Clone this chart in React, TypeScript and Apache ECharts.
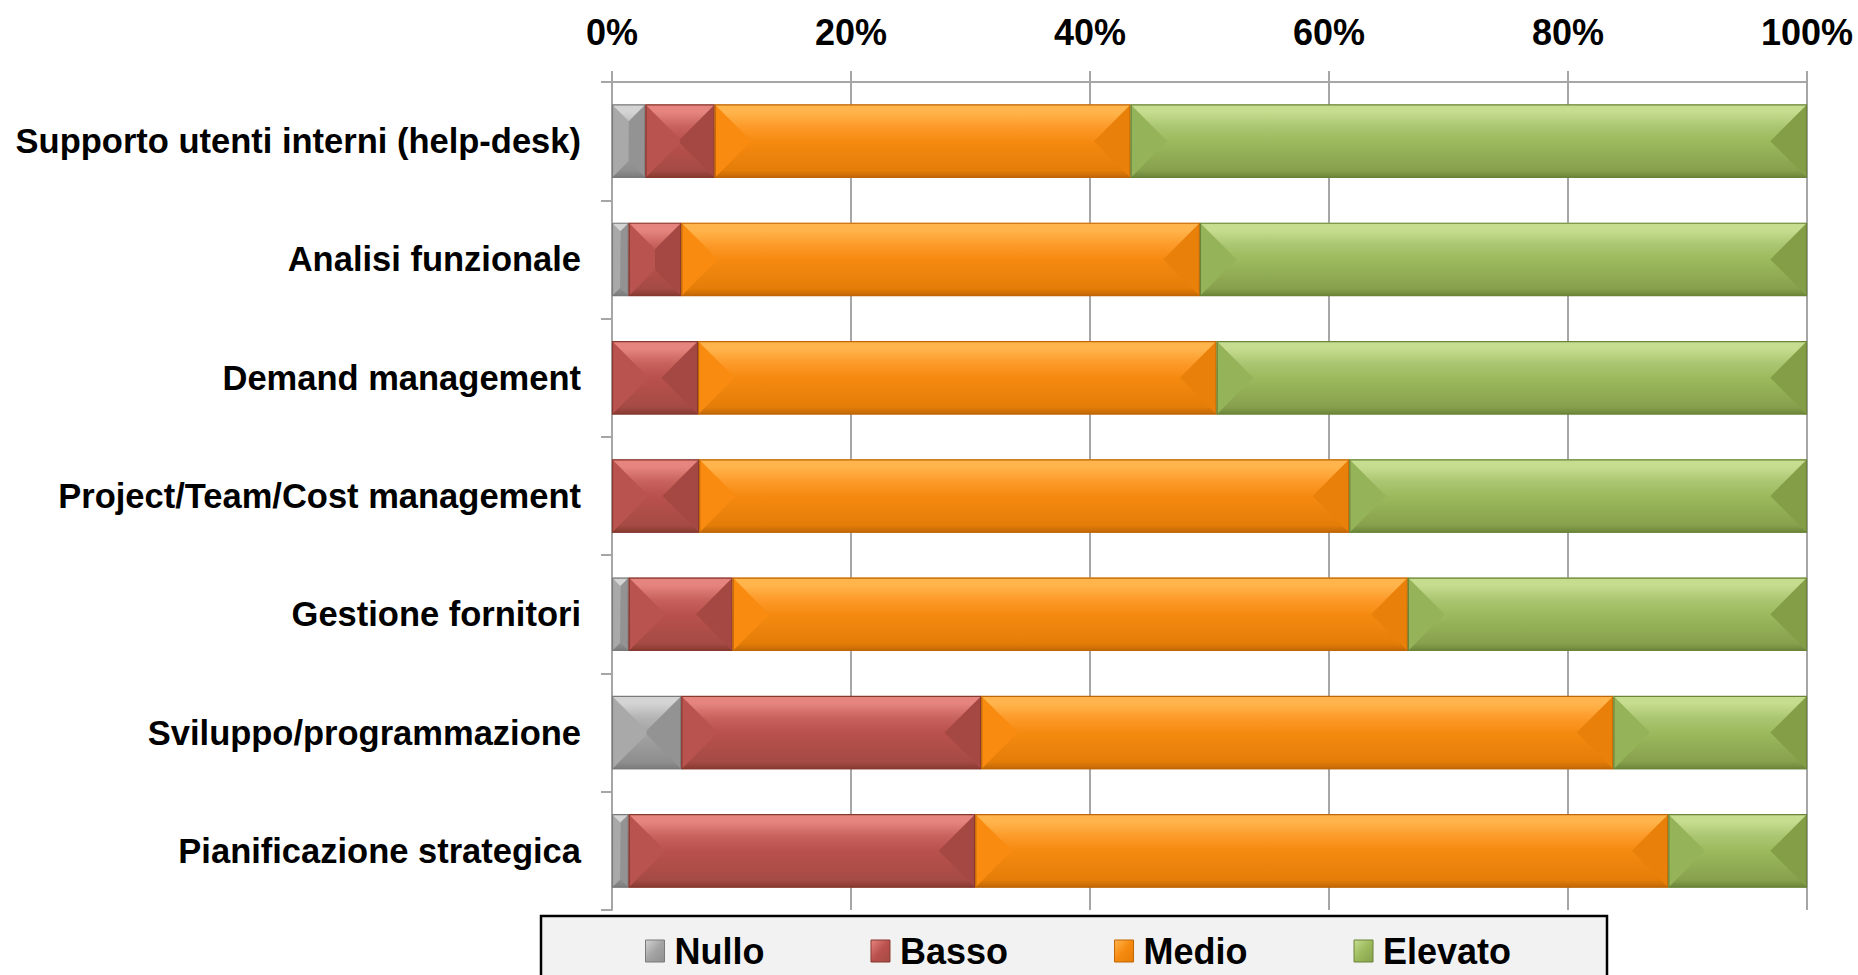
import React, { useEffect, useRef } from "react";
import * as echarts from "echarts";

const categories = [
  "Supporto utenti interni (help-desk)",
  "Analisi funzionale",
  "Demand management",
  "Project/Team/Cost management",
  "Gestione fornitori",
  "Sviluppo/programmazione",
  "Pianificazione strategica",
];
const seriesNames = ["Nullo", "Basso", "Medio", "Elevato"];
const nullo = [2.8, 1.4, 0, 0, 1.4, 5.8, 1.4];
const basso = [5.8, 4.4, 7.2, 7.3, 8.7, 25.1, 29.0];
const medio = [34.8, 43.4, 43.4, 54.4, 56.5, 52.9, 58.0];
const elevato = [56.6, 50.8, 49.4, 38.3, 33.4, 16.2, 11.6];
const tickValues = [0, 20, 40, 60, 80, 100];

const palette = [
  { top: "#d4d4d4", light: "#b4b4b4", mid: "#a4a4a4", bot: "#8e8e8e", left: "#a9a9a9", right: "#939393", border: "#7a7a7a" },
  { top: "#e6857f", light: "#c8625d", mid: "#b9514d", bot: "#a54a45", left: "#b9534f", right: "#a54843", border: "#86392f" },
  { top: "#ffb54c", light: "#fd9a2a", mid: "#f68a10", bot: "#e47d08", left: "#f98c10", right: "#e98009", border: "#c06606" },
  { top: "#c6dd8f", light: "#abc672", mid: "#9cba5d", bot: "#87a04d", left: "#95b359", right: "#849e47", border: "#6a8438" },
];

const FONT = "'Liberation Sans', Arial, sans-serif";

export default function App() {
  const ref = useRef<HTMLDivElement>(null);
  useEffect(() => {
    if (!ref.current) return;
    const chart = echarts.init(ref.current, null, { renderer: "svg" });
    const values = [nullo, basso, medio, elevato];
    const cum = categories.map(() => 0);
    const seriesData = values.map((arr) =>
      arr.map((v, i) => {
        const s = cum[i];
        cum[i] += v;
        return [i, s, s + v];
      })
    );
    const bodyGrad = (p: any) =>
      new echarts.graphic.LinearGradient(0, 0, 0, 1, [
        { offset: 0, color: p.top },
        { offset: 0.1, color: p.top },
        { offset: 0.3, color: p.light },
        { offset: 0.5, color: p.mid },
        { offset: 0.9, color: p.bot },
        { offset: 1, color: p.border },
      ]);
    const series = seriesNames.map((name, si) => {
      const p = palette[si];
      return {
        name,
        type: "custom",
        encode: { x: [1, 2], y: 0 },
        itemStyle: { color: p.mid },
        data: seriesData[si],
        renderItem: (params: any, api: any) => {
          const cat = api.value(0);
          const s = api.value(1);
          const e = api.value(2);
          if (e - s <= 0) return null;
          const a = api.coord([s, cat]);
          const b = api.coord([e, cat]);
          const band = api.size([0, 1])[1];
          const h = band * 0.62;
          const x0 = a[0];
          const x1 = b[0];
          const y0 = a[1] - h / 2;
          const y1 = a[1] + h / 2;
          const w = x1 - x0;
          const d = Math.min(w, h) / 2;
          return {
            type: "group",
            children: [
              { type: "rect", shape: { x: x0, y: y0, width: w, height: h }, style: { fill: bodyGrad(p) } },
              {
                type: "polygon",
                shape: { points: [[x0, y0], [x0 + d, y0 + d], [x0 + d, y1 - d], [x0, y1]] },
                style: { fill: p.left },
              },
              {
                type: "polygon",
                shape: { points: [[x1, y0], [x1 - d, y0 + d], [x1 - d, y1 - d], [x1, y1]] },
                style: { fill: p.right },
              },
              {
                type: "rect",
                shape: { x: x0 + 0.5, y: y0 + 0.5, width: Math.max(w - 1, 0), height: h - 1 },
                style: { fill: "none", stroke: p.border, lineWidth: 1.2 },
              },
            ],
          };
        },
      };
    });
    const legendIcon = (p: any) =>
      new echarts.graphic.LinearGradient(0, 0, 1, 1, [
        { offset: 0, color: p.top },
        { offset: 0.5, color: p.mid },
        { offset: 1, color: p.bot },
      ]);
    chart.setOption({
      animation: false,
      backgroundColor: "#ffffff",
      grid: { left: 612, right: 51, top: 82, bottom: 65 },
      xAxis: {
        type: "value",
        position: "top",
        min: 0,
        max: 100,
        interval: 20,
        axisLine: { show: true, lineStyle: { color: "#a6a6a6", width: 2 } },
        axisTick: { show: true, length: 11, lineStyle: { color: "#a6a6a6", width: 2 } },
        splitLine: { show: true, lineStyle: { color: "#a6a6a6", width: 2 } },
        axisLabel: {
          formatter: (v: number) => (tickValues.includes(v) ? v + "%" : ""),
          color: "#000",
          fontFamily: FONT,
          fontWeight: "bold",
          fontSize: 36,
          margin: 32,
        },
      },
      yAxis: {
        type: "category",
        inverse: true,
        data: categories,
        axisLine: { show: true, lineStyle: { color: "#a6a6a6", width: 2 } },
        axisTick: { show: true, length: 11, lineStyle: { color: "#a6a6a6", width: 2 } },
        axisLabel: {
          color: "#000",
          fontFamily: FONT,
          fontWeight: "bold",
          fontSize: 34.5,
          margin: 31,
        },
      },
      legend: {
        left: 645,
        top: 933,
        padding: 0,
        itemWidth: 19,
        itemHeight: 22,
        itemGap: 106,
        icon: "rect",
        textStyle: {
          color: "#000",
          fontFamily: FONT,
          fontWeight: "bold",
          fontSize: 36,
          padding: [0, 0, 0, 5],
        },
        data: seriesNames.map((n, i) => ({
          name: n,
          itemStyle: { color: legendIcon(palette[i]), borderColor: palette[i].border, borderWidth: 1 },
        })),
      },
      graphic: [
        {
          type: "rect",
          z: -10,
          shape: { x: 541, y: 916, width: 1066, height: 80 },
          style: { fill: "#f2f2f2", stroke: "#000", lineWidth: 2.5 },
        },
      ],
      series,
    });
    return () => chart.dispose();
  }, []);
  return (
    <div
      ref={ref}
      style={{ position: "absolute", left: 0, top: 0, width: 1858, height: 975 }}
    />
  );
}
